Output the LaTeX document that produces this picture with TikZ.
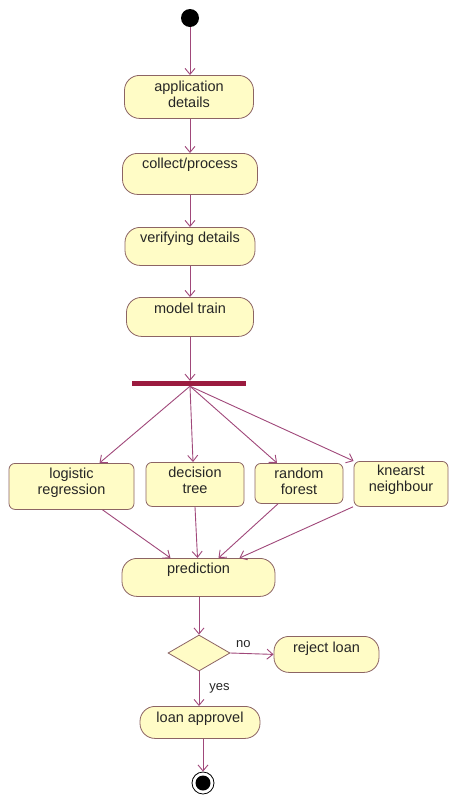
\documentclass[tikz,border=0pt]{standalone}
\usepackage{fontspec}
\setmainfont{Liberation Sans}
\usetikzlibrary{arrows.meta,shapes.geometric,calc}

\definecolor{fillc}{HTML}{FFFCC6}
\definecolor{borderc}{HTML}{8C6464}
\definecolor{edgec}{HTML}{A0487A}
\definecolor{barc}{HTML}{9B1B3F}
\definecolor{textc}{HTML}{262626}

% two centred lines, baseline on the first one
\newcommand{\twolines}[2]{\begin{tabular}[t]{@{}c@{}}#1\\#2\end{tabular}}

\tikzset{
  flow/.style={draw=edgec, line width=0.9pt, -{Straight Barb[length=6pt,width=10pt]}},
  act/.style={draw=borderc, fill=fillc, line width=0.8pt, rounded corners=15pt,
              inner xsep=0pt, inner ysep=0pt, anchor=north, text=textc,
              font=\fontsize{14.5}{16}\selectfont},
  algo/.style={act, rounded corners=6pt},
  guard/.style={text=textc, font=\fontsize{13}{15}\selectfont, inner sep=0pt},
}

\begin{document}
\begin{tikzpicture}[x=1pt, y=-1pt]
\useasboundingbox[fill=white] (0,0) rectangle (449,796);

% start and end
\node[circle, fill=black, minimum size=18pt, inner sep=0pt] (start) at (190,18) {};
\node[circle, draw=black, line width=0.8pt, fill=white, minimum size=22pt, inner sep=0pt] (fin) at (203,783) {};
\fill[black] (fin.center) circle (7.5pt);

% sequential activities
\node[act, minimum width=129pt, text height=16pt, text depth=27pt] (app) at (189,75) {\twolines{application}{details}};
\node[act, minimum width=135pt, text height=15pt, text depth=26pt] (col) at (190,153) {collect/process};
\node[act, minimum width=130pt, text height=15pt, text depth=23pt] (ver) at (190,227) {verifying details};
\node[act, minimum width=127pt, text height=16pt, text depth=23pt] (mod) at (190,297) {model train};

% fork bar
\node[fill=barc, minimum width=114pt, minimum height=5pt, inner sep=0pt] (bar) at (189,383.5) {};

% the four models
\node[algo, minimum width=125pt, text height=15pt, text depth=31pt] (logi) at (71.5,463) {\twolines{logistic}{regression}};
\node[algo, minimum width=98pt, text height=15pt, text depth=29pt] (dec) at (195,462) {\twolines{decision}{tree}};
\node[algo, minimum width=88pt, text height=15pt, text depth=25pt] (rnd) at (299,463) {\twolines{random}{forest}};
\node[algo, minimum width=94pt, text height=14pt, text depth=31pt] (kn) at (401,461) {\twolines{knearst}{neighbour}};

% prediction and decision
\node[act, minimum width=153pt, text height=15pt, text depth=23pt] (pred) at (198.5,558) {prediction};
\node[diamond, draw=borderc, fill=fillc, line width=0.8pt, minimum width=62pt, minimum height=36pt, inner sep=0pt] (dia) at (199,653) {};
\node[act, minimum width=105pt, text height=16pt, text depth=20pt] (rej) at (326.5,636) {reject loan};
\node[act, minimum width=120pt, text height=16pt, text depth=16pt] (appr) at (200,706) {loan approvel};

% connectors
\draw[flow] (start.south) -- (start.south |- app.north);
\draw[flow] (app.south -| col.north) -- (col.north);
\draw[flow] (col.south) -- (ver.north);
\draw[flow] (ver.south) -- (mod.north);
\draw[flow] (mod.south) -- (mod.south |- bar.north);

\draw[flow] ([xshift=1pt]bar.south) -- ([xshift=28pt]logi.north);
\draw[flow] ([xshift=1pt]bar.south) -- ([xshift=-2pt]dec.north);
\draw[flow] ([xshift=1pt]bar.south) -- ([xshift=-22pt]rnd.north);
\draw[flow] ([xshift=1pt]bar.south) -- (kn.north west);

\draw[flow] ([xshift=31pt]logi.south) -- ([xshift=-28pt]pred.north);
\draw[flow] (dec.south) -- ([xshift=-1pt]pred.north);
\draw[flow] ([xshift=-21pt]rnd.south) -- ([xshift=20pt]pred.north);
\draw[flow] ([xshift=-48pt]kn.south) -- ([xshift=41pt]pred.north);

\draw[flow] (pred.south -| dia.north) -- (dia.north);
\draw[flow] (dia.east) -- (rej.west) node[guard, pos=0.3, above=5pt] (lno) {no};
\draw[flow] (dia.south) -- (dia.south |- appr.north) node[guard, midway, right=10pt] (lyes) {yes};
\draw[flow] (appr.south -| fin.north) -- (fin.north);
\end{tikzpicture}
\end{document}
